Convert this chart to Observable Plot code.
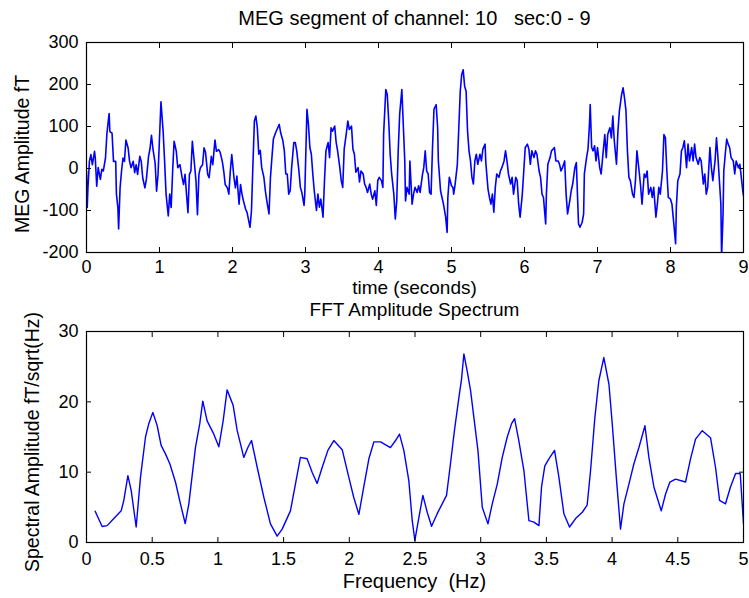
<!DOCTYPE html>
<html>
<head>
<meta charset="utf-8">
<script src="https://cdn.jsdelivr.net/npm/d3@7"></script>
<script src="https://cdn.jsdelivr.net/npm/@observablehq/plot@0.6"></script>
<style>
  html, body { margin: 0; padding: 0; background: #fff; }
  #fig { position: relative; width: 749px; height: 598px; background: #fff; overflow: hidden;
         font-family: 'Liberation Sans', Arial, sans-serif; color: #000; }
  .lbl { position: absolute; font-size: 20px; line-height: 23px; white-space: pre; text-align: center; }
  .mid { font-size: 19px; line-height: 22px; }
  .rot { position: absolute; font-size: 19.5px; line-height: 22px; white-space: pre;
         transform: translate(-50%, -50%) rotate(-90deg); }
  .panel { position: absolute; left: 0; }
</style>
</head>
<body>
<div id="fig">
  <div class="lbl" style="left:86px;width:657px;top:7px;">MEG segment of channel: 10   sec:0 - 9</div>
  <div class="lbl mid" style="left:86px;width:657px;top:277px;">time (seconds)</div>
  <div class="lbl mid" style="left:86px;width:657px;top:299px;">FFT Amplitude Spectrum</div>
  <div class="lbl" style="left:86px;width:657px;top:570px;">Frequency  (Hz)</div>
  <div class="rot" style="left:22px;top:154px;">MEG Amplitude fT</div>
  <div class="rot" style="left:32px;top:442px;">Spectral Amplitude fT/sqrt(Hz)</div>
  <div id="top" class="panel" style="top:0px;"></div>
  <div id="bottom" class="panel" style="top:300px;"></div>
</div>
<script>
// ---- MEG time series (seconds, fT) ----
const timeSec = [0.00,0.01,0.02,0.04,0.06,0.08,0.11,0.12,0.14,0.16,0.19,0.21,0.23,0.26,0.28,0.30,0.31,0.32,0.35,0.37,0.40,0.41,0.43,0.44,0.46,0.48,0.50,0.52,0.54,0.57,0.59,0.61,0.64,0.66,0.68,0.70,0.73,0.75,0.77,0.80,0.82,0.85,0.87,0.89,0.91,0.94,0.96,0.98,
1.00,1.02,1.05,1.07,1.09,1.12,1.14,1.16,1.18,1.20,1.23,1.25,1.28,1.31,1.33,1.35,1.37,1.39,1.41,1.43,1.45,1.48,1.50,1.52,1.54,1.56,1.59,1.61,1.63,1.66,1.68,1.71,1.73,1.76,1.78,1.81,1.83,1.86,1.88,1.90,1.93,1.95,1.97,1.99,
2.02,2.04,2.06,2.09,2.11,2.13,2.15,2.18,2.20,2.24,2.26,2.28,2.30,2.32,2.34,2.36,2.38,2.40,2.43,2.45,2.47,2.50,2.52,2.54,2.56,2.59,2.62,2.64,2.66,2.69,2.71,2.73,2.75,2.77,2.79,2.81,2.84,2.86,2.88,2.91,2.93,2.95,2.98,2.99,
3.02,3.04,3.06,3.08,3.10,3.12,3.15,3.17,3.19,3.21,3.24,3.26,3.28,3.31,3.33,3.35,3.37,3.40,3.42,3.44,3.47,3.49,3.51,3.53,3.56,3.58,3.60,3.63,3.65,3.67,3.69,3.72,3.74,3.76,3.79,3.81,3.83,3.85,3.88,3.90,3.92,3.95,3.97,3.99,
4.01,4.04,4.06,4.07,4.10,4.12,4.14,4.16,4.18,4.21,4.23,4.25,4.27,4.29,4.32,4.33,4.36,4.37,4.39,4.42,4.43,4.46,4.48,4.50,4.53,4.55,4.57,4.60,4.62,4.64,4.66,4.68,4.70,4.72,4.74,4.76,4.79,4.81,4.82,4.85,4.87,4.89,4.92,4.94,4.95,4.97,
5.00,5.02,5.03,5.05,5.08,5.10,5.12,5.14,5.16,5.18,5.20,5.22,5.24,5.26,5.28,5.30,5.32,5.34,5.36,5.39,5.41,5.43,5.46,5.47,5.50,5.52,5.54,5.56,5.58,5.60,5.62,5.65,5.67,5.69,5.72,5.74,5.76,5.78,5.81,5.83,5.85,5.88,5.90,5.92,5.94,5.97,5.99,
6.01,6.04,6.06,6.08,6.10,6.13,6.15,6.17,6.20,6.22,6.24,6.26,6.29,6.30,6.32,6.35,6.37,6.39,6.41,6.43,6.46,6.48,6.50,6.52,6.55,6.57,6.59,6.62,6.64,6.66,6.69,6.71,6.74,6.76,6.79,6.81,6.82,6.85,6.87,6.89,6.90,6.92,6.94,6.96,6.98,
7.00,7.03,7.05,7.07,7.10,7.12,7.14,7.17,7.19,7.21,7.23,7.26,7.28,7.30,7.33,7.35,7.37,7.39,7.41,7.43,7.45,7.48,7.50,7.52,7.54,7.57,7.59,7.61,7.64,7.66,7.68,7.70,7.73,7.75,7.77,7.80,7.82,7.84,7.86,7.89,7.91,7.93,7.95,7.97,
8.00,8.02,8.05,8.07,8.08,8.10,8.13,8.15,8.17,8.19,8.22,8.24,8.26,8.29,8.31,8.33,8.35,8.38,8.40,8.42,8.45,8.47,8.49,8.51,8.54,8.56,8.58,8.61,8.63,8.65,8.67,8.69,8.70,8.72,8.73,8.75,8.77,8.79,8.81,8.83,8.86,8.88,8.90,8.93,8.95,8.97,8.99,9.00];
const megFT = [-6,-93,-46,17,33,9,41,25,-42,2,-26,-2,-6,25,84,116,131,88,84,17,17,-61,-93,-144,-46,-6,25,17,68,49,17,2,17,-10,9,-14,29,17,-22,-46,-26,29,47,79,47,13,-54,-14,
72,159,88,17,-61,-113,-61,-93,-6,65,41,2,9,-22,-38,-14,-61,-105,-14,-6,65,9,-30,-110,-14,2,9,49,39,-14,-22,29,9,68,41,45,39,17,-6,-38,-46,-61,-6,33,
-22,-46,-18,-85,-38,-61,-77,-97,-105,-140,-100,10,113,125,97,34,43,2,-21,-53,-77,-108,-21,26,70,85,97,105,85,66,42,-13,-13,-61,-53,2,62,62,42,-6,-45,-57,-88,-61,
141,105,50,34,-13,-53,-100,-61,-92,-73,-116,-29,42,62,26,97,89,101,62,42,2,-29,-45,46,85,113,93,101,46,34,-9,2,-32,-6,-13,-37,-45,-57,-37,-61,-73,-53,-88,-29,
-21,-29,-45,81,188,176,113,34,-13,-61,-120,-77,42,129,188,145,18,-77,-45,-61,18,-85,-61,-45,-57,-41,-57,-17,2,42,-6,-13,-57,-61,50,141,152,97,18,-53,-69,-85,-116,-152,-69,-21,
-41,-45,-61,-37,10,97,184,224,235,196,184,89,42,18,-21,-37,18,34,10,34,18,46,58,14,-49,-69,-85,-61,-104,-45,-13,-21,-6,2,18,42,18,-13,-37,-21,-61,-21,-29,-85,-116,-61,-6,
50,58,46,10,42,26,42,34,-6,-21,-61,-69,-132,-61,10,26,42,46,50,18,18,10,-6,2,18,-61,-108,-77,-53,-37,2,14,-132,-140,-128,-108,-13,26,46,105,152,50,42,54,18,
50,2,-13,26,81,26,81,97,73,125,66,10,89,137,176,192,168,137,42,-21,-29,-61,-69,-29,42,-6,-41,-85,-13,-21,-6,-61,-45,-69,-45,-116,-85,-45,-61,-6,81,73,-6,-69,
-73,-85,-140,-179,-92,-29,-13,42,50,66,2,58,18,50,18,58,26,10,26,18,-37,-13,-61,-45,50,2,-29,18,73,26,-29,-85,-210,-108,-6,34,70,58,50,26,18,-13,18,2,10,-21,-53,-65];
const timeTicks = [0,1,2,3,4,5,6,7,8,9];
const megTicks = [-200,-100,0,100,200,300];

// ---- FFT amplitude spectrum (Hz, fT/sqrt(Hz)) ----
const freqHz = [0.066,0.119,0.157,0.208,0.264,0.284,0.315,0.340,0.378,0.411,0.449,0.474,0.505,0.538,0.568,0.601,0.634,0.677,0.715,0.751,0.779,0.829,0.862,0.885,0.918,0.969,
1.007,1.040,1.070,1.116,1.147,1.197,1.228,1.256,1.299,1.350,1.400,1.451,1.489,1.552,1.590,1.628,1.679,1.717,1.755,1.794,1.837,1.882,1.946,1.996,
2.034,2.073,2.110,2.149,2.187,2.238,2.313,2.352,2.382,2.415,2.453,2.479,2.499,2.530,2.560,2.593,2.626,2.669,2.707,2.740,2.770,2.800,2.834,2.854,2.872,2.897,2.923,2.948,2.979,
3.012,3.055,3.088,3.126,3.164,3.202,3.235,3.258,3.290,3.329,3.367,3.405,3.443,3.463,3.488,3.519,3.562,3.595,3.633,3.676,3.722,3.773,3.810,3.836,3.869,3.899,3.937,3.976,
4.001,4.034,4.064,4.090,4.128,4.166,4.204,4.250,4.280,4.318,4.374,4.407,4.440,4.483,4.559,4.597,4.635,4.686,4.749,4.787,4.818,4.863,4.901,4.940,4.975,5.000];
const spectrum = [4.45,2.27,2.4,3.4,4.5,6.0,9.5,7.4,2.2,9.3,15.0,16.9,18.5,16.6,13.8,12.6,11.2,8.6,5.5,2.7,5.5,13.5,16.9,20.1,17.3,15.4,
13.6,17.3,21.7,19.5,15.9,12.1,13.5,14.5,10.7,6.4,2.65,0.9,1.9,4.5,8.3,12.1,11.9,10.0,8.4,10.7,13.1,14.5,13.2,9.3,
6.4,4.0,7.9,11.9,14.3,14.3,13.5,14.5,15.4,13.1,8.8,3.1,0.3,3.6,6.7,4.3,2.3,4.1,5.5,6.7,11.2,15.9,20.6,23.2,26.8,24.4,21.6,17.8,13.1,
5.0,2.65,5.5,8.3,12.1,15.0,16.9,17.6,14.5,10.2,3.1,2.9,2.4,7.9,10.9,11.9,13.1,9.3,4.1,2.2,3.4,4.3,5.3,10.2,17.8,23.0,26.3,22.5,
16.9,8.8,1.9,5.5,8.3,11.2,13.5,16.6,12.1,7.9,4.5,6.9,8.6,9.0,8.6,11.9,14.7,15.9,14.9,10.7,6.0,5.5,7.9,9.8,9.8,2.7];
const freqTicks = [0,0.5,1,1.5,2,2.5,3,3.5,4,4.5,5];
const ampTicks = [0,10,20,30];

const megData = timeSec.map((t, i) => ({t, v: megFT[i]}));
const specData = freqHz.map((f, i) => ({f, a: spectrum[i]}));

const fontStyle = {fontFamily: "'Liberation Sans', Arial, sans-serif", fontSize: "18px", background: "transparent", color: "#000", overflow: "visible"};
const fmt = d => String(d);
const blank = () => "";

function boxAxes(xTicks, yTicks, xPad) {
  return [
    Plot.axisX(xTicks, {anchor: "bottom", tickSize: -5, tickPadding: xPad, tickFormat: fmt, label: null, stroke: "#000"}),
    Plot.axisX(xTicks, {anchor: "top", tickSize: -5, tickFormat: blank, label: null, stroke: "#000"}),
    Plot.axisY(yTicks, {anchor: "left", tickSize: -5, tickPadding: 13, tickFormat: fmt, label: null, stroke: "#000"}),
    Plot.axisY(yTicks, {anchor: "right", tickSize: -5, tickFormat: blank, label: null, stroke: "#000"})
  ];
}

const topPlot = Plot.plot({
  width: 749, height: 290,
  marginLeft: 86, marginRight: 6, marginTop: 42, marginBottom: 38,
  style: fontStyle,
  x: {domain: [0, 9]},
  y: {domain: [-200, 300]},
  marks: [
    Plot.line(megData, {x: "t", y: "v", stroke: "#0000ff", strokeWidth: 1.6, clip: true}),
    Plot.frame({stroke: "#000", strokeWidth: 1.2}),
    ...boxAxes(timeTicks, megTicks, 13)
  ]
});
document.getElementById("top").appendChild(topPlot);

const bottomPlot = Plot.plot({
  width: 749, height: 290,
  marginLeft: 86, marginRight: 6, marginTop: 31, marginBottom: 48,
  style: fontStyle,
  x: {domain: [0, 5]},
  y: {domain: [0, 30]},
  marks: [
    Plot.line(specData, {x: "f", y: "a", stroke: "#0000ff", strokeWidth: 1.4, clip: true}),
    Plot.frame({stroke: "#000", strokeWidth: 1.2}),
    ...boxAxes(freqTicks, ampTicks, 15)
  ]
});
document.getElementById("bottom").appendChild(bottomPlot);
</script>
</body>
</html>
